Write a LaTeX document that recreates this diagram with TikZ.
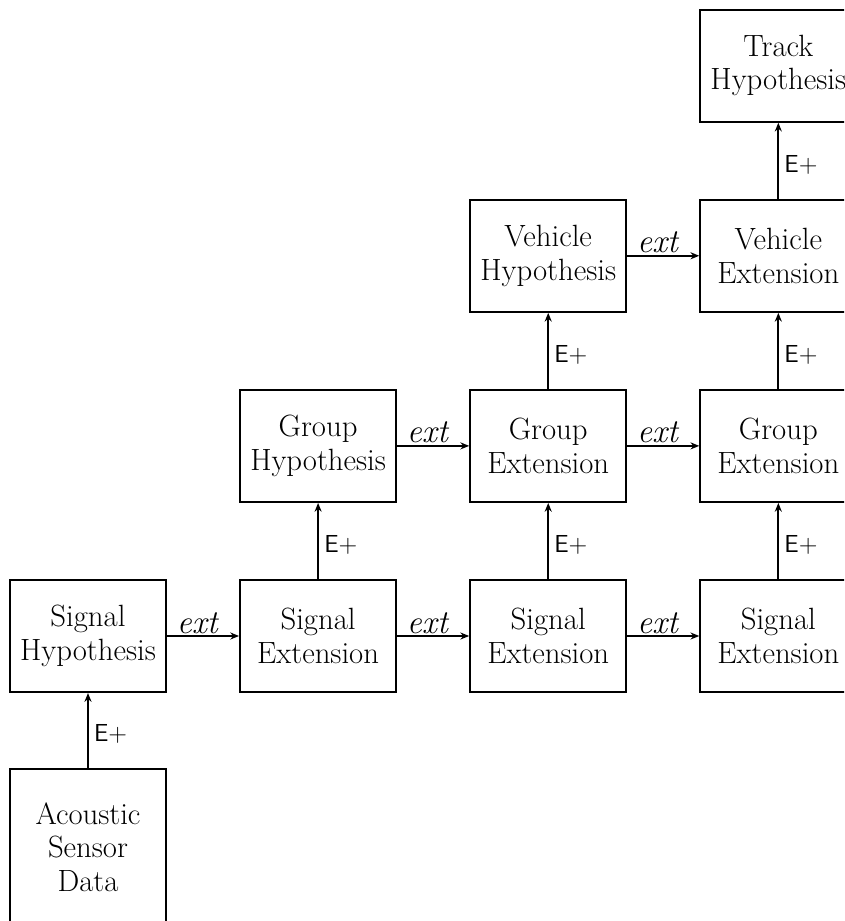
\documentclass[tikz,border=0pt]{standalone}
\usepackage{tikz}
\usetikzlibrary{arrows.meta, positioning}

\begin{document}
\begin{tikzpicture}[
    node distance=1.52cm,
    block/.style={draw, line width=1.2pt, minimum width=3.12cm, minimum height=2.24cm, align=center, font=\fontsize{17.5}{19}\selectfont, inner sep=2pt},
    arrow/.style={-{Stealth[length=5pt,width=4pt]}, line width=1pt},
    extlab/.style={font=\fontsize{19}{19}\selectfont\itshape, above, inner sep=1pt, pos=0.42},
    elab/.style={font=\fontsize{14}{14}\selectfont\sffamily, right, inner sep=3pt, pos=0.45}
  ]
  \clip (-1.76,-5.7) rectangle (15.12,12.72);

  % signal row
  \node[block] (sighyp) at (0,0) {Signal\\Hypothesis};
  \node[block, minimum height=3.12cm, below=1.5cm of sighyp] (acoustic) {Acoustic\\Sensor\\Data};
  \node[block, right=1.44cm of sighyp] (sigext1) {Signal\\Extension};
  \node[block, right=1.44cm of sigext1] (sigext2) {Signal\\Extension};
  \node[block, right=1.44cm of sigext2] (sigext3) {Signal\\Extension};

  % group row
  \node[block, above=of sigext1] (grphyp) {Group\\Hypothesis};
  \node[block, above=of sigext2] (grpext1) {Group\\Extension};
  \node[block, above=of sigext3] (grpext2) {Group\\Extension};

  % vehicle row
  \node[block, above=of grpext1] (vehhyp) {Vehicle\\Hypothesis};
  \node[block, above=of grpext2] (vehext) {Vehicle\\Extension};

  % track
  \node[block, above=of vehext] (trkhyp) {Track\\Hypothesis};

  \draw[arrow] (acoustic) -- node[elab] {E+} (sighyp);
  \draw[arrow] (sighyp) -- node[extlab] {ext} (sigext1);
  \draw[arrow] (sigext1) -- node[extlab] {ext} (sigext2);
  \draw[arrow] (sigext2) -- node[extlab] {ext} (sigext3);

  \draw[arrow] (sigext1) -- node[elab] {E+} (grphyp);
  \draw[arrow] (sigext2) -- node[elab] {E+} (grpext1);
  \draw[arrow] (sigext3) -- node[elab] {E+} (grpext2);
  \draw[arrow] (grphyp) -- node[extlab] {ext} (grpext1);
  \draw[arrow] (grpext1) -- node[extlab] {ext} (grpext2);

  \draw[arrow] (grpext1) -- node[elab] {E+} (vehhyp);
  \draw[arrow] (grpext2) -- node[elab] {E+} (vehext);
  \draw[arrow] (vehhyp) -- node[extlab] {ext} (vehext);

  \draw[arrow] (vehext) -- node[elab] {E+} (trkhyp);
\end{tikzpicture}
\end{document}
